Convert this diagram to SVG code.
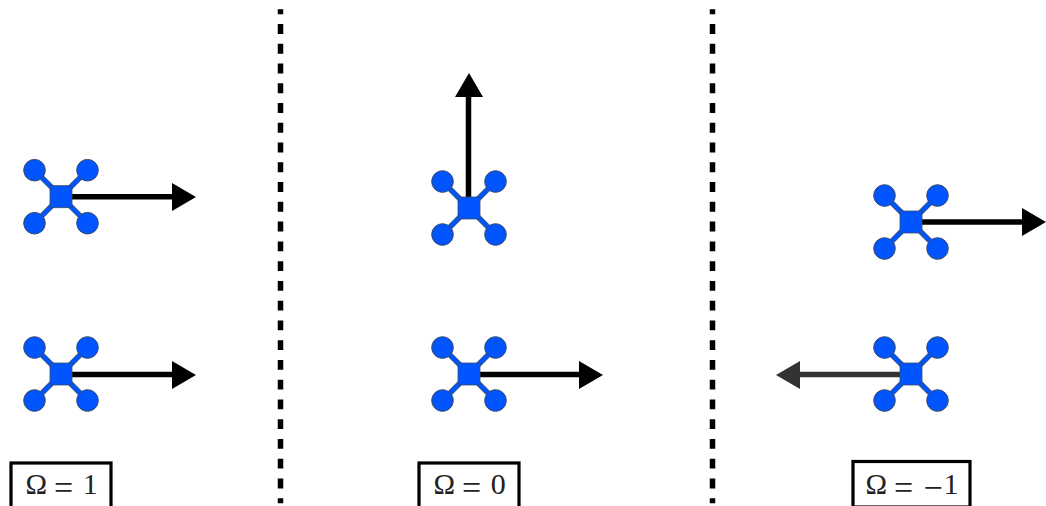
<svg xmlns="http://www.w3.org/2000/svg" xmlns:xlink="http://www.w3.org/1999/xlink" width="1046" height="506" viewBox="0 0 1046 506">
<style>
.sep{stroke:#000;stroke-width:5.5;stroke-dasharray:9.88 9.88;stroke-dashoffset:4.94;fill:none}
.armo{stroke:#44546a;stroke-width:5.4;fill:none}
.arm{stroke:#0055ff;stroke-width:4.2;fill:none}
.rotor{fill:#0055ff;stroke:#3a4a66;stroke-width:1}
.body{fill:#0055ff;stroke:#3a4a66;stroke-width:.8}
.shaft{stroke:#000;stroke-width:5.5;fill:none}
.head{fill:#000}
.dim .shaft{stroke:#333}
.dim .head{fill:#333}
.box{fill:#fff;stroke:#000;stroke-width:3.2}
.lbl{font-family:"Liberation Serif",serif;fill:#222}
.o{font-size:29px}
.e{font-size:34px}
.n{font-size:30px}
</style>
<defs>
<g id="drone">
<path class="armo" d="M-26.500-26.500L26.500 26.500M26.500-26.500L-26.500 26.500"/>
<path class="arm" d="M-26.500-26.500L26.500 26.500M26.500-26.500L-26.500 26.500"/>
<circle class="rotor" cx="-26.500" cy="-26.500" r="10.800"/>
<circle class="rotor" cx="26.500" cy="-26.500" r="10.800"/>
<circle class="rotor" cx="-26.500" cy="26.500" r="10.800"/>
<circle class="rotor" cx="26.500" cy="26.500" r="10.800"/>
<rect class="body" x="-11" y="-11" width="22" height="22"/>
</g>
</defs>
<g id="separators">
<path class="sep" d="M280.500 9.200V503.200"/>
<path class="sep" d="M712.500 9.200V503.200"/>
</g>
<g id="connectors">
<g><path class="shaft" d="M61 196.700H174"/><path class="head" d="M172 183V211L196 197Z"/></g>
<g><path class="shaft" d="M61 374.500H174"/><path class="head" d="M172 361V389L196 375Z"/></g>
<g><path class="shaft" d="M468.500 207V95"/><path class="head" d="M455 97H483L469 73Z"/></g>
<g><path class="shaft" d="M469 374.500H581"/><path class="head" d="M579 361V389L603 375Z"/></g>
<g><path class="shaft" d="M911 222H1024"/><path class="head" d="M1022 208V236L1046 222Z"/></g>
<g class="dim"><path class="shaft" d="M911 374.500H798"/><path class="head" d="M800 361V389L776 375Z"/></g>
</g>
<g id="drone-a1"><use xlink:href="#drone" href="#drone" x="61" y="196.700"/></g>
<g id="drone-a2"><use xlink:href="#drone" href="#drone" x="61" y="374"/></g>
<g id="drone-b1"><use xlink:href="#drone" href="#drone" x="469" y="208"/></g>
<g id="drone-b2"><use xlink:href="#drone" href="#drone" x="469" y="374"/></g>
<g id="drone-c1"><use xlink:href="#drone" href="#drone" x="911" y="222"/></g>
<g id="drone-c2"><use xlink:href="#drone" href="#drone" x="911" y="374"/></g>
<g id="label-a"><rect class="box" x="11" y="463" width="100" height="48"/><text class="lbl" y="494"><tspan class="o" x="25.500">Ω </tspan><tspan class="e" x="54" y="498.500">= </tspan><tspan class="n" x="82.700" y="494">1</tspan></text></g>
<g id="label-b"><rect class="box" x="419" y="463" width="100" height="48"/><text class="lbl" y="494"><tspan class="o" x="433.500">Ω </tspan><tspan class="e" x="462" y="498.500">= </tspan><tspan class="n" x="490.700" y="494">0</tspan></text></g>
<g id="label-c"><rect class="box" x="853" y="461.500" width="117" height="45.500"/><text class="lbl" y="494"><tspan class="o" x="865.500">Ω </tspan><tspan class="e" x="894" y="498.500">= </tspan><tspan class="e" x="923.500">−</tspan><tspan class="n" x="943.400" y="494">1</tspan></text></g>
</svg>
